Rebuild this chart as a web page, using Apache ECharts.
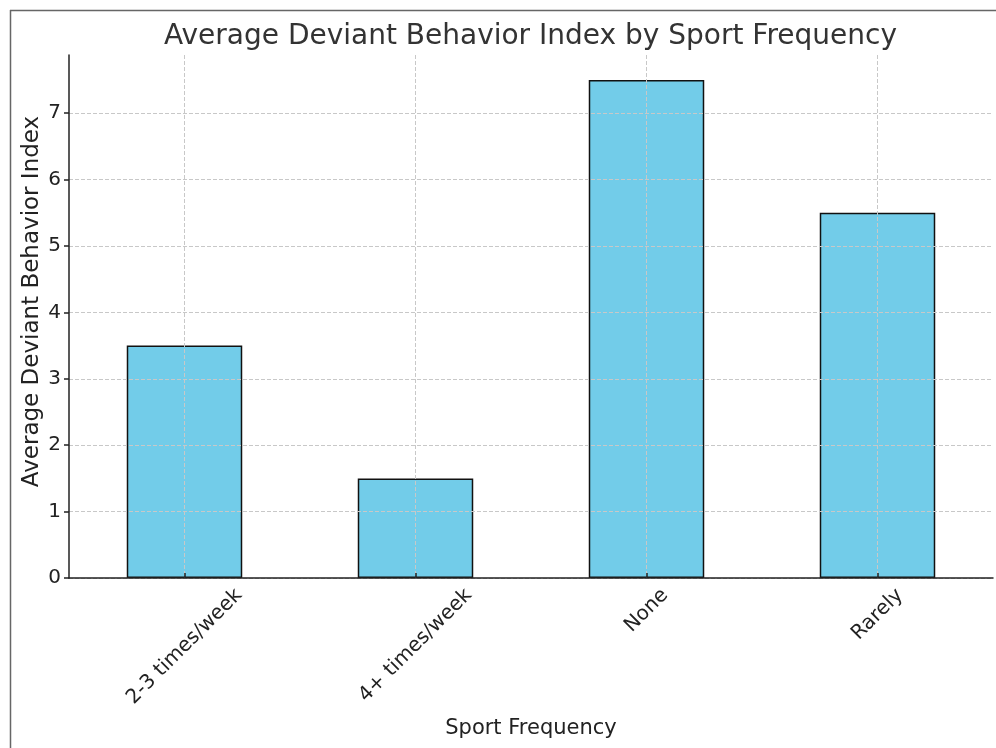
<!DOCTYPE html>
<html><head><meta charset="utf-8">
<script src="https://cdn.jsdelivr.net/npm/echarts@6/dist/echarts.min.js"></script>
<style>html,body{margin:0;padding:0;background:#fff}#c{width:996px;height:748px}</style>
</head><body><div id="c"></div>
<script>
var categories = ['2-3 times/week', '4+ times/week', 'None', 'Rarely'];
var values = [3.5, 1.5, 7.5, 5.5];
var yTicks = [0, 1, 2, 3, 4, 5, 6, 7];

var font = 'DejaVu Sans';
var tickFont = 20;
// centre rotated labels under their ticks (like a centre-aligned 45° label)
var ctx = document.createElement('canvas').getContext('2d');
ctx.font = tickFont + 'px "' + font + '"';
var categoryData = categories.map(function (c) {
  var L = ctx.measureText(c).width;
  var h = tickFont * 1.15;
  var D = 6 + 0.3536 * (L + h);
  var p = 1.4142 * D;
  return {value: c, textStyle: {align: 'center', verticalAlign: 'top', lineHeight: p, padding: [0, p, 0, 0]}};
});

var chart = echarts.init(document.getElementById('c'));
var gridLine = {show: true, lineStyle: {color: '#c8c8c8', type: [4, 2], width: 1}};
chart.setOption({
  animation: false,
  textStyle: {fontFamily: font},
  title: {text: 'Average Deviant Behavior Index by Sport Frequency', left: 159, top: 18,
    textStyle: {fontFamily: font, fontSize: 28, fontWeight: 'normal', color: '#333'}},
  graphic: [
    {type: 'line', shape: {x1: 10, y1: 10.5, x2: 996, y2: 10.5}, style: {stroke: '#666', lineWidth: 1.5}},
    {type: 'line', shape: {x1: 10.5, y1: 10, x2: 10.5, y2: 748}, style: {stroke: '#666', lineWidth: 1.5}}
  ],
  grid: {left: 69, right: 3, top: 55, bottom: 170, containLabel: false, outerBoundsMode: 'none'},
  xAxis: {
    type: 'category', data: categoryData, z: 5,
    name: 'Sport Frequency', nameLocation: 'middle', nameGap: 140, nameMoveOverlap: false,
    nameTextStyle: {fontFamily: font, fontSize: 21, color: '#222'},
    axisLine: {lineStyle: {color: '#222', width: 1.5}},
    axisTick: {show: true, alignWithLabel: true, inside: true, length: 5, lineStyle: {color: '#222', width: 1.5}},
    axisLabel: {rotate: 45, fontSize: tickFont, color: '#222', fontFamily: font, margin: 0, hideOverlap: false},
    splitLine: Object.assign({alignWithLabel: true}, gridLine)
  },
  yAxis: {
    type: 'value', min: 0, max: 7.875, interval: 1, z: 5,
    name: 'Average Deviant Behavior Index', nameLocation: 'middle', nameGap: 25, nameMoveOverlap: false,
    nameTextStyle: {fontFamily: font, fontSize: 23, color: '#222', padding: [0, 0, 0, 30]},
    axisLine: {show: true, lineStyle: {color: '#222', width: 1.5}},
    axisTick: {show: true, length: 5, customValues: yTicks, lineStyle: {color: '#222', width: 1.5}},
    axisLabel: {fontSize: tickFont, color: '#222', fontFamily: font, margin: 8, customValues: yTicks},
    splitLine: gridLine
  },
  series: [{
    type: 'bar', data: values, barWidth: '50%', z: 2,
    itemStyle: {color: '#72cce9', borderColor: '#111', borderWidth: 1.5}
  }]
});
</script></body></html>
